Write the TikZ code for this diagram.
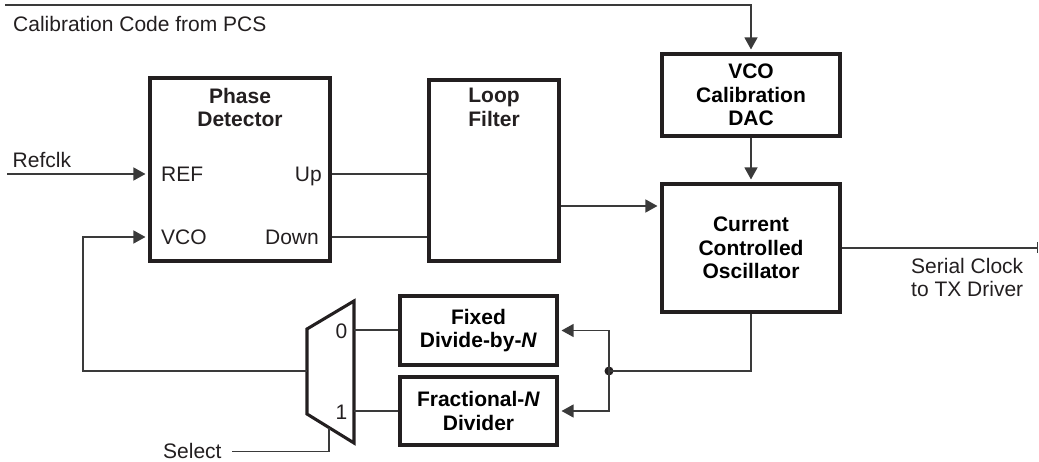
\documentclass[tikz,border=0pt]{standalone}
\usepackage{fontspec}
\setmainfont{Liberation Sans}
\usetikzlibrary{arrows.meta}
\definecolor{ink}{HTML}{231F20}
\definecolor{wirec}{HTML}{3A3A3A}
\tikzset{
  blk/.style={draw=ink, line width=3.1pt, inner sep=0pt, align=center,
    font=\bfseries\fontsize{21}{23.3}\selectfont},
  wire/.style={draw=wirec, line width=1.3pt},
  arr/.style={wire, -{Triangle[length=12pt,width=13pt]}, shorten >=3pt},
  lbl/.style={font=\fontsize{21}{23.3}\selectfont, inner sep=0pt, text=ink},
  btxt/.style={font=\bfseries\fontsize{21}{23.3}\selectfont, inner sep=0pt, align=center, text=ink},
}
\begin{document}
\begin{tikzpicture}[x=1pt,y=-1pt]
\useasboundingbox (0,0) rectangle (1039,462);

% blocks
\node[blk, minimum width=180pt, minimum height=183pt] (pd) at (240,169.5) {};
\node[btxt] (pdt) at (240,107.5) {Phase\\Detector};
\node[blk, minimum width=130pt, minimum height=181pt] (lf) at (494,170.5) {};
\node[btxt] (lft) at (494,107.5) {Loop\\Filter};
\node[blk, minimum width=178pt, minimum height=82pt] (dac) at (751,95) {VCO\\Calibration\\DAC};
\node[blk, minimum width=178pt, minimum height=128pt] (cco) at (751,248) {Current\\Controlled\\Oscillator};
\node[blk, minimum width=157pt, minimum height=69pt] (fix) at (478.5,330.5) {Fixed\\Divide-by-\textit{N}};
\node[blk, minimum width=157pt, minimum height=68pt] (frac) at (478.5,411) {Fractional-\textit{N}\\Divider};

% labels
\node[lbl, anchor=base west] (ref) at (161,181.5) {REF};
\node[lbl, anchor=base west] (vco) at (161,244.5) {VCO};
\node[lbl, anchor=base east] (up) at (322,181.5) {Up};
\node[lbl, anchor=base east] (down) at (319,244.5) {Down};
\node[lbl, anchor=base west] (refclk) at (12.5,168) {Refclk};
\node[lbl, anchor=base west] (calc) at (13,31.5) {Calibration Code from PCS};
\node[lbl, anchor=north west, align=left] (ser) at (911,258) {Serial Clock\\to TX Driver};
\node[lbl, anchor=base west] (sel) at (163,458.5) {Select};
\node[lbl, anchor=base east] (m0l) at (347.5,338.5) {0};
\node[lbl, anchor=base east] (m1l) at (347.5,419.5) {1};

% mux
\coordinate (mtl) at (307,329);
\coordinate (mtr) at (354,301);
\coordinate (mbr) at (354,443);
\coordinate (mbl) at (307,414);
\draw[draw=ink, line width=3.1pt, line join=miter] (mtl) -- (mtr) -- (mbr) -- (mbl) -- cycle;

% coordinates
\coordinate (topL) at (5,5);
\coordinate (yU) at (0,174);
\coordinate (yD) at (0,237);
\coordinate (rin) at (7,174);
\coordinate (lfo) at (0,206);
\coordinate (so) at (0,248);
\coordinate (sout) at (1038,248);
\coordinate (mo) at (307,371);
\coordinate (fbc) at (83,371);
\coordinate (m0) at (354,330);
\coordinate (m1) at (354,411);
\coordinate (selA) at (232,451.5);
\coordinate (selB) at (329,427.6);
\node[circle, fill=ink, inner sep=0pt, minimum size=9pt] (jn) at (609,371) {};

% connectors
\draw[arr] (topL) -| (dac.north);
\draw[arr] (dac.south) -- (cco.north);
\draw[arr] (rin) -- (pd.west |- rin);
\draw[wire] (pd.east |- yU) -- (lf.west |- yU);
\draw[wire] (pd.east |- yD) -- (lf.west |- yD);
\draw[arr] (lf.east |- lfo) -- (cco.west |- lfo);
\draw[wire, -{Bar[width=11pt]}] (cco.east |- so) -- (sout);
\draw[wire] (cco.south) |- (jn.center);
\draw[arr] (jn.center) |- (fix.east);
\draw[arr] (jn.center) |- (frac.east);
\draw[wire] (m0) -- (m0 -| fix.west);
\draw[wire] (m1) -- (m1 -| frac.west);
\draw[arr] (mo) -- (fbc) |- (pd.west |- yD);
\draw[wire] (selA) -| (selB);
\end{tikzpicture}
\end{document}
